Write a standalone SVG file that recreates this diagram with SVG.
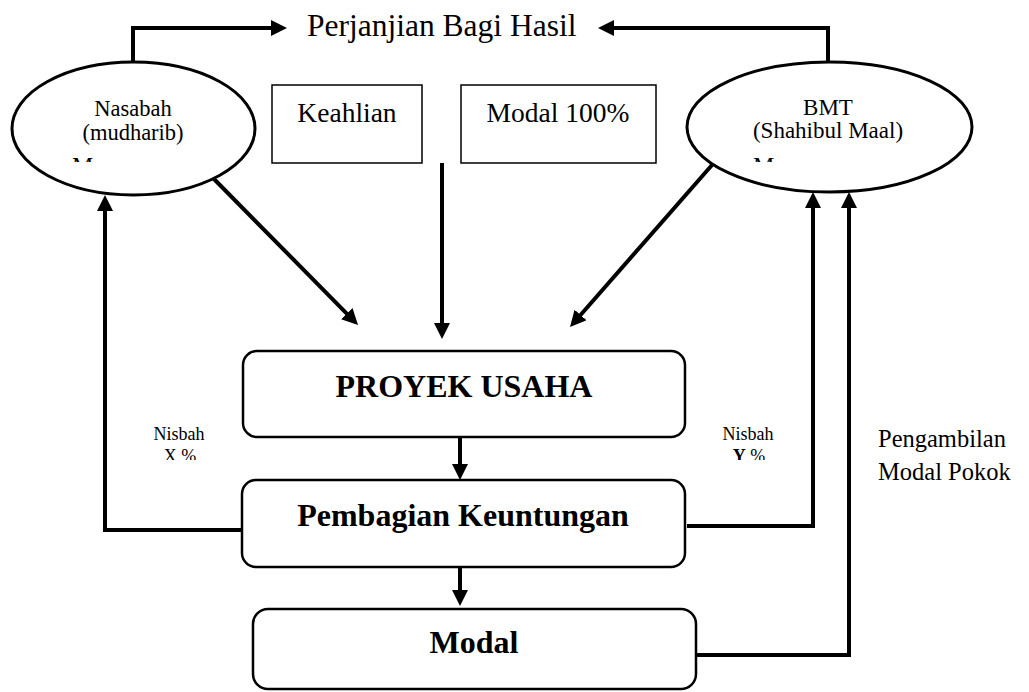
<svg xmlns="http://www.w3.org/2000/svg" width="1029" height="692" viewBox="0 0 1029 692">
<style>
text{font-family:"Liberation Serif","Times New Roman",serif;fill:#000}
.c{text-anchor:middle}
.b{font-weight:bold}
.conn{fill:none;stroke:#000;stroke-width:4;stroke-linejoin:miter}
.ell{fill:#fff;stroke:#000;stroke-width:3}
.rbox{fill:#fff;stroke:#000;stroke-width:2.5}
.tbox{fill:#fff;stroke:#000;stroke-width:1.5}
</style>
<defs>
<marker id="ah" viewBox="0 0 16 16" refX="1" refY="8" markerWidth="16" markerHeight="16" markerUnits="userSpaceOnUse" orient="auto">
<path d="M0,0 L16,8 L0,16 z" fill="#000"/>
</marker>
<clipPath id="clipM"><rect x="0" y="0" width="1029" height="162"/></clipPath>
<clipPath id="clipN"><rect x="0" y="0" width="1029" height="460"/></clipPath>
</defs>
<rect width="1029" height="692" fill="#fff"/>

<g id="connectors">
<path class="conn" d="M133,62 V28 H272" marker-end="url(#ah)"/>
<path class="conn" d="M828,62 V28 H613" marker-end="url(#ah)"/>
<path class="conn" d="M213,178 L347.5,314.3" marker-end="url(#ah)"/>
<path class="conn" d="M442,163 V324" marker-end="url(#ah)"/>
<path class="conn" d="M712,165 L579.9,315.7" marker-end="url(#ah)"/>
<path class="conn" d="M460,437 V465" marker-end="url(#ah)"/>
<path class="conn" d="M460,567 V591" marker-end="url(#ah)"/>
<path class="conn" d="M242,530 H105 V210" marker-end="url(#ah)"/>
<path class="conn" d="M687,526 H813 V207" marker-end="url(#ah)"/>
<path class="conn" d="M697,655 H849 V207" marker-end="url(#ah)"/>
</g>

<g id="perjanjian">
<text x="307" y="36" font-size="31.5">Perjanjian Bagi Hasil</text>
</g>

<g id="nasabah">
<ellipse class="ell" cx="133.5" cy="128.5" rx="121.5" ry="66.5"/>
<text class="c" x="133" y="116" font-size="22.5">Nasabah</text>
<text class="c" x="133" y="140" font-size="22.5">(mudharib)</text>
<text x="72" y="173" font-size="24" clip-path="url(#clipM)">M</text>
</g>

<g id="bmt">
<ellipse class="ell" cx="829.5" cy="127" rx="142.5" ry="65"/>
<text class="c" x="828" y="115" font-size="23">BMT</text>
<text class="c" x="828" y="138" font-size="23">(Shahibul Maal)</text>
<text x="753" y="173" font-size="24" clip-path="url(#clipM)">M</text>
</g>

<g id="keahlian">
<rect class="tbox" x="272" y="85" width="150" height="78"/>
<text class="c" x="347" y="122" font-size="27.5">Keahlian</text>
</g>

<g id="modal100">
<rect class="tbox" x="461" y="85" width="195" height="78"/>
<text class="c" x="558" y="122" font-size="27.5">Modal 100%</text>
</g>

<g id="proyek">
<rect class="rbox" x="243" y="351" width="442" height="86" rx="14"/>
<text class="c b" x="464" y="397" font-size="32">PROYEK USAHA</text>
</g>

<g id="pembagian">
<rect class="rbox" x="242" y="480" width="443" height="87" rx="14"/>
<text class="c b" x="463" y="526" font-size="32">Pembagian Keuntungan</text>
</g>

<g id="modal">
<rect class="rbox" x="253" y="609" width="443" height="80" rx="15"/>
<text class="c b" x="474" y="653" font-size="32">Modal</text>
</g>

<g id="nisbah-x">
<text class="c" x="179" y="440" font-size="18">Nisbah</text>
<text class="c" x="180" y="462" font-size="18" clip-path="url(#clipN)">X %</text>
</g>

<g id="nisbah-y">
<text class="c" x="748" y="440" font-size="18">Nisbah</text>
<text class="c" x="749" y="462" font-size="18" clip-path="url(#clipN)"><tspan class="b">Y</tspan> %</text>
</g>

<g id="pengambilan">
<text x="878" y="447" font-size="24.5">Pengambilan</text>
<text x="878" y="480" font-size="24.5">Modal Pokok</text>
</g>
</svg>
